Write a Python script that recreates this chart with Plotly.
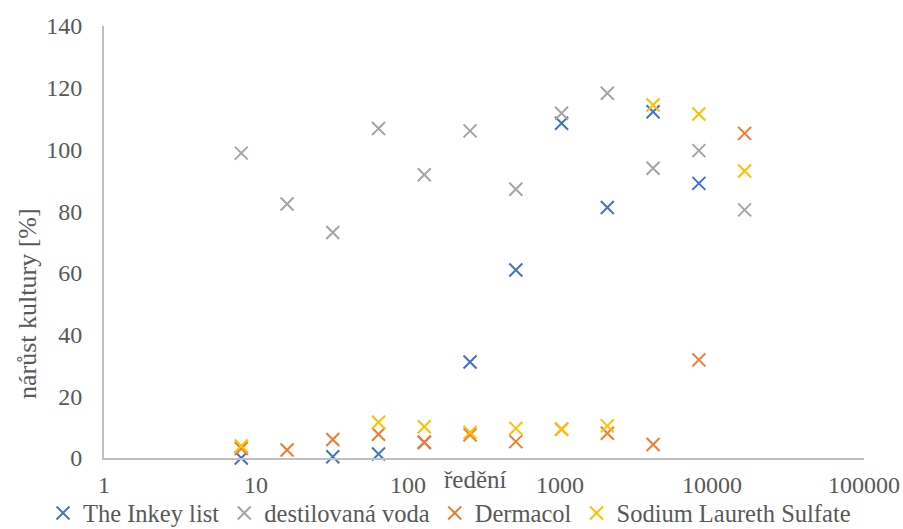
import plotly.graph_objects as go

# Dilution series (x) and culture growth in % (y) for each tested substance
dilution = [8, 16, 32, 64, 128, 256, 512, 1024, 2048, 4096, 8192, 16384]

inkey_list = [0.0, None, 0.4, 1.3, 5.1, 31.1, 60.9, 108.5, 81.2, 112.2, 89.0, None]
destilovana_voda = [98.8, 82.3, 73.1, 106.8, 91.8, 106.0, 87.1, 111.7, 118.2, 93.9, 99.6, 80.4]
dermacol = [3.1, 2.6, 6.0, 7.7, 5.0, 7.5, 5.3, 9.3, 8.0, 4.4, 31.8, 105.2]
sodium_laureth_sulfate = [3.9, None, None, 11.6, 10.1, 8.3, 9.6, 9.4, 10.4, 114.4, 111.5, 93.0]

series_names = ["The Inkey list", "destilovaná voda", "Dermacol", "Sodium Laureth Sulfate"]
series_values = [inkey_list, destilovana_voda, dermacol, sodium_laureth_sulfate]
series_colors = ["#4472C4", "#A5A5A5", "#ED7D31", "#FFC000"]

x_tick_values = [1, 10, 100, 1000, 10000, 100000]
x_tick_labels = ["1", "10", "100", "1000", "10000", "100000"]
y_tick_values = [0, 20, 40, 60, 80, 100, 120, 140]

FONT = "Liberation Serif, Times New Roman, serif"
TEXT_COLOR = "#595959"
AXIS_COLOR = "#BFBFBF"

# plot area in pixels (used to place the titles and the legend)
W, H = 903, 529
L, R, T, B = 104, 39, 26, 71
PW, PH = W - L - R, H - T - B

fig = go.Figure()
for name, vals, color in zip(series_names, series_values, series_colors):
    fig.add_trace(go.Scatter(
        x=dilution, y=vals, name=name, mode="markers",
        marker=dict(symbol="x-thin", size=13, line=dict(color=color, width=2), color=color),
        cliponaxis=False,
    ))

fig.update_layout(
    width=W, height=H,
    margin=dict(l=L, r=R, t=T, b=B, autoexpand=False),
    paper_bgcolor="white", plot_bgcolor="white",
    font=dict(family=FONT, size=24, color=TEXT_COLOR),
    showlegend=True,
    legend=dict(
        orientation="h",
        x=(43 - L) / PW, y=-(513 - (H - B)) / PH,
        xanchor="left", yanchor="middle",
        font=dict(family=FONT, size=24.5, color=TEXT_COLOR),
        itemwidth=30, borderwidth=0,
        bgcolor="rgba(0,0,0,0)",
    ),
    xaxis=dict(
        type="log", range=[0, 5],
        tickvals=x_tick_values, ticktext=x_tick_labels,
        showgrid=False, zeroline=False,
        showline=True, linecolor=AXIS_COLOR, linewidth=2,
        ticks="", ticklabelstandoff=4,
        tickfont=dict(family=FONT, size=24, color=TEXT_COLOR),
    ),
    yaxis=dict(
        range=[0, 140], tickvals=y_tick_values,
        showgrid=False, zeroline=False,
        showline=True, linecolor=AXIS_COLOR, linewidth=2,
        ticks="", ticklabelstandoff=15,
        tickfont=dict(family=FONT, size=24, color=TEXT_COLOR),
    ),
    annotations=[
        dict(text="ředění", xref="paper", yref="paper",
             x=(475 - L) / PW, y=-(480 - (H - B)) / PH,
             xanchor="center", yanchor="middle", showarrow=False,
             font=dict(family=FONT, size=25, color=TEXT_COLOR)),
        dict(text="nárůst kultury [%]", xref="paper", yref="paper",
             x=-(L - 27) / PW, y=((H - B) - 304) / PH,
             xanchor="center", yanchor="middle", showarrow=False, textangle=-90,
             font=dict(family=FONT, size=26, color=TEXT_COLOR)),
    ],
)

fig.write_html("out.html")
